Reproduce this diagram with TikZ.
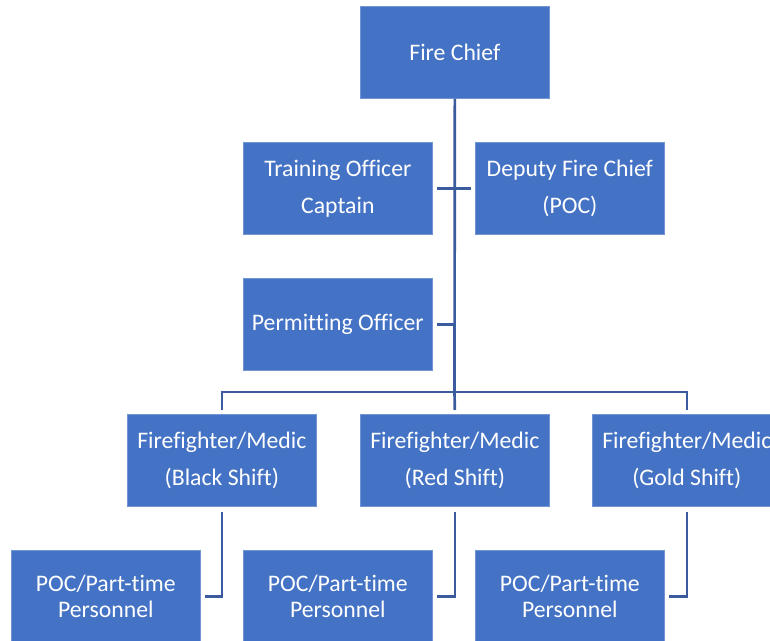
\documentclass[tikz,border=0pt]{standalone}
\usepackage{fontspec}
\setmainfont[Ligatures=NoCommon]{Carlito}
\usetikzlibrary{calc}
\definecolor{boxblue}{HTML}{4472C4}
\definecolor{linkblue}{HTML}{3A5C9E}
\begin{document}
\begin{tikzpicture}[x=0.75pt,y=-0.75pt,
  box/.style={fill=boxblue, draw=boxblue!75!white, line width=0.5pt, text=white,
    minimum width=141.75pt, minimum height=69pt, inner sep=0pt, align=center,
    anchor=north west, font=\fontsize{17.8}{21.4}\selectfont},
  conn/.style={draw=linkblue, line width=2pt}]
\useasboundingbox (0,0) rectangle (770,641);
\node[box] (chief) at (360,6) {Fire Chief};
\node[box] (train) at (243,142) {Training Officer\\[6.35pt]Captain};
\node[box] (deputy) at (475,142) {Deputy Fire Chief\\[6.35pt](POC)};
\node[box] (permit) at (243,278) {Permitting Officer};
\node[box] (ffb) at (127,414) {Firefighter/Medic\\[6.35pt](Black Shift)};
\node[box] (ffr) at (360,414) {Firefighter/Medic\\[6.35pt](Red Shift)};
\node[box] (ffg) at (592,414) {Firefighter/Medic\\[6.35pt](Gold Shift)};
\node[box] (pocb) at (11,550) {POC/Part-time\\[-1.9pt]Personnel};
\node[box] (pocr) at (243,550) {POC/Part-time\\[-1.9pt]Personnel};
\node[box] (pocg) at (475,550) {POC/Part-time\\[-1.9pt]Personnel};
\coordinate (jn) at (454.5,392);
\draw[conn] (chief.south) -- (jn);
\draw[conn] ($(train.east)+(4,0)$) -- ($(deputy.west)+(-4,0)$);
\draw[conn] ($(permit.east)+(4,0)$) -- (permit.east -| jn);
\draw[conn] ([xshift=-1pt]ffb.north |- jn) -- ([xshift=1pt]ffg.north |- jn);
\draw[conn] (ffb.north |- jn) -- ($(ffb.north)+(0,-4)$);
\draw[conn] (jn) -- ($(ffr.north)+(0,-4)$);
\draw[conn] (ffg.north |- jn) -- ($(ffg.north)+(0,-4)$);
\draw[conn] ($(ffb.south)+(0,5)$) |- ($(pocb.east)+(4,0)$);
\draw[conn] ($(ffr.south)+(0,5)$) |- ($(pocr.east)+(4,0)$);
\draw[conn] ($(ffg.south)+(0,5)$) |- ($(pocg.east)+(4,0)$);
\end{tikzpicture}
\end{document}
